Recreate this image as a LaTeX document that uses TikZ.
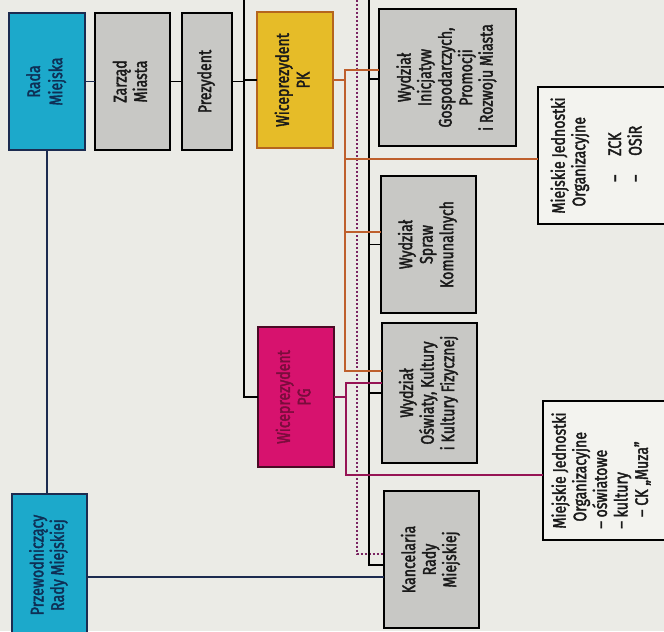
\documentclass[tikz,border=0pt]{standalone}
\usepackage{fontspec}
\setmainfont[FakeStretch=0.78,FakeBold=2]{Fira Sans}
\definecolor{bg}{HTML}{EBEBE6}
\definecolor{cyanf}{HTML}{1CA9CB}
\definecolor{cyantxt}{HTML}{0E2F55}
\definecolor{grayf}{HTML}{C8C8C5}
\definecolor{yelf}{HTML}{E6BC28}
\definecolor{yelb}{HTML}{B5651D}
\definecolor{magf}{HTML}{D7126E}
\definecolor{magtxt}{HTML}{7A0C3C}
\definecolor{magb}{HTML}{4A0A25}
\definecolor{whf}{HTML}{F3F3EF}
\definecolor{orgl}{HTML}{BE5F2D}
\definecolor{magl}{HTML}{961455}
\definecolor{dotl}{HTML}{7A2462}
\definecolor{navyl}{HTML}{1C2B50}
\definecolor{txt}{HTML}{1A1A1A}
\newcommand\fs{\fontsize{15.5pt}{17.5pt}\selectfont}
\newcommand\rtc[1]{\rotatebox{90}{\begin{tabular}{@{}c@{}}#1\end{tabular}}}
\newcommand\rtl[1]{\rotatebox{90}{\begin{tabular}{@{}l@{}}#1\end{tabular}}}
\begin{document}
\begin{tikzpicture}[x=0.03cm,y=-0.03cm,
  every node/.style={inner sep=0pt, outer sep=0pt},
  sz/.style 2 args={minimum width=#1*0.03cm, minimum height=#2*0.03cm},
  bx/.style={draw=black, line width=2pt, fill=grayf, font=\fs, text=txt},
  cyanbox/.style={draw=navyl, fill=cyanf, text=cyantxt},
  yelbox/.style={draw=yelb, fill=yelf, text=txt},
  magbox/.style={draw=magb, fill=magf, text=magtxt},
  wbox/.style={draw=black, line width=1.8pt, fill=whf, font=\fs, text=txt},
  blk/.style={draw=black, line width=1.5pt},
  nav/.style={draw=navyl, line width=1.5pt},
  org/.style={draw=orgl, line width=1.5pt},
  mag/.style={draw=magl, line width=1.5pt},
  dotln/.style={draw=dotl, line width=1.7pt, dash pattern=on 1.7pt off 1.7pt}
]
\fill[bg] (0,0) rectangle (664,631);
\useasboundingbox (0,0) rectangle (664,631);
\clip (0,0) rectangle (664,631);

% helper coordinates
\coordinate (tA) at (244,0);
\coordinate (tB) at (369,0);
\coordinate (tD) at (357,0);
\coordinate (oV) at (345,0);
\coordinate (mV) at (346,0);
\coordinate (y70) at (0,70);
\coordinate (y79) at (0,79);
\coordinate (y159) at (0,159);
\coordinate (y232) at (0,232);
\coordinate (y371) at (0,371);
\coordinate (y383) at (0,383);
\coordinate (y475) at (0,475);
\coordinate (y554) at (0,554);
\coordinate (y565) at (0,565);
\coordinate (y577) at (0,577);

% boxes
\node[bx, cyanbox, sz={76}{137}] (rada) at (47,81.5) {\rtc{Rada\\[1.5pt]Miejska}};
\node[bx, sz={75}{137}] (zarzad) at (132.5,81.5) {\rtc{Zarząd\\Miasta}};
\node[bx, sz={50}{137}] (prez) at (207,81.5) {\rtc{Prezydent}};
\node[bx, yelbox, sz={76}{136}] (pk) at (295,80) {\rtc{Wiceprezydent\\PK}};
\node[bx, sz={137}{137}] (wi) at (447.5,77.5) {\rtc{Wydział\\Inicjatyw\\Gospodarczych,\\Promocji\\i Rozwoju Miasta}};
\node[wbox, sz={142}{137}] (zck) at (609,155.5) {\rtl{Miejskie Jednostki\\\hspace*{6pt}Organizacyjne\\[13pt]\hspace*{27pt}–\hspace{16pt}ZCK\\\hspace*{27pt}–\hspace{16pt}OSiR}\kern17pt};
\node[bx, sz={95}{137}] (wsk) at (428.5,244.5) {\rtc{Wydział\\Spraw\\Komunalnych}};
\node[bx, magbox, sz={76}{140}] (pg) at (296,397) {\rtc{Wiceprezydent\\PG}};
\node[bx, sz={95}{140}] (wok) at (429.5,393) {\rtc{Wydział\\Oświaty, Kultury\\i Kultury Fizycznej}};
\node[wbox, sz={137}{139}] (mjo) at (611.5,470.5) {\rtl{Miejskie Jednostki\\\hspace*{6pt}Organizacyjne\\– oświatowe\\– kultury\\\hspace*{10pt}– CK „Muza”}\kern15pt};
\node[bx, cyanbox, sz={75}{142}] (przew) at (49.5,565) {\rtc{Przewodniczący\\Rady Miejskiej}};
\node[bx, sz={95}{137}] (kanc) at (431.5,559.5) {\rtc{Kancelaria\\Rady\\Miejskiej}};

% connectors
\draw[nav] (rada) -- (zarzad);
\draw[blk] (zarzad) -- (prez);
\draw[blk] (prez) -- (prez -| tA);
\draw[blk] (tA) |- (pg);
\draw[blk] (tA |- pk) -- (pk);
\draw[nav] (rada.south) -- (rada.south |- przew.north);
\draw[nav] (przew.east |- y577) -- (kanc.west |- y577);

\draw[dotln] (tD) |- (kanc.west |- y554);

\draw[blk] (tB) |- (kanc.west |- y565);
\draw[blk] (tB |- y79) -- (wi.west |- y79);
\draw[blk] (tB |- wsk) -- (wsk.west);
\draw[blk] (tB |- wok) -- (wok.west);

\draw[org] (pk.east) -- (pk.east -| oV);
\draw[org] (wi.west |- y70) -| (oV |- y371) -- (wok.west |- y371);
\draw[org] (oV |- y159) -- (zck.west |- y159);
\draw[org] (oV |- y232) -- (wsk.west |- y232);

\draw[mag] (pg.east) -- (pg.east -| mV);
\draw[mag] (wok.west |- y383) -| (mV |- y475) -- (mjo.west |- y475);
\end{tikzpicture}
\end{document}
